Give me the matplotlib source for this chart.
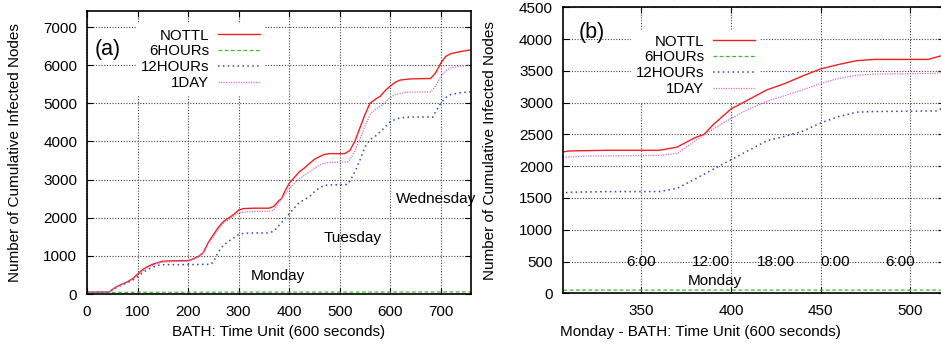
import matplotlib.pyplot as plt

plt.rcParams["font.family"] = ["Liberation Sans", "DejaVu Sans"]
plt.rcParams["font.size"] = 11

# time units (600 s) and cumulative infected nodes
nottl_t = [0, 45, 50, 60, 70, 80, 90, 100, 110, 120, 130, 140, 150, 170, 200,
           210, 220, 230, 240, 250, 260, 270, 280, 290, 300, 310, 330, 360,
           370, 380, 385, 390, 400, 410, 420, 430, 440, 450, 460, 470, 480,
           510, 520, 530, 540, 550, 560, 570, 580, 590, 600, 610, 620, 640,
           680, 690, 700, 710, 720, 740, 760]
nottl_n = [45, 55, 120, 200, 260, 320, 400, 520, 640, 720, 780, 820, 860, 870,
           875, 920, 980, 1080, 1350, 1550, 1750, 1900, 1990, 2080, 2200, 2240,
           2250, 2250, 2300, 2450, 2500, 2650, 2900, 3050, 3200, 3300, 3420,
           3530, 3600, 3660, 3680, 3680, 3760, 4000, 4350, 4700, 5000, 5100,
           5180, 5330, 5450, 5550, 5610, 5640, 5650, 5800, 6050, 6230, 6300,
           6360, 6400]

h6_t = [0, 100, 300, 500, 760]
h6_n = [40, 45, 50, 50, 55]

h12_t = [0, 45, 50, 60, 70, 80, 90, 100, 110, 120, 130, 140, 150, 200, 245,
         250, 260, 270, 280, 290, 300, 310, 330, 360, 370, 380, 390, 400, 410,
         420, 430, 440, 450, 460, 470, 480, 515, 520, 530, 540, 550, 560, 570,
         580, 590, 600, 610, 620, 640, 685, 690, 700, 710, 720, 740, 760]
h12_n = [45, 55, 110, 180, 240, 300, 360, 450, 560, 640, 700, 750, 770, 770,
         780, 840, 1100, 1280, 1380, 1470, 1560, 1590, 1600, 1600, 1650, 1800,
         1950, 2100, 2250, 2400, 2470, 2550, 2680, 2780, 2850, 2860, 2870,
         2950, 3200, 3500, 3850, 4050, 4130, 4250, 4380, 4510, 4580, 4620,
         4640, 4640, 4780, 5000, 5150, 5230, 5280, 5300]

d1_t = [0, 45, 50, 60, 70, 80, 90, 100, 110, 120, 130, 140, 150, 200, 210,
        220, 230, 240, 250, 260, 270, 280, 290, 300, 320, 360, 370, 380, 390,
        400, 410, 420, 430, 440, 450, 460, 470, 480, 515, 520, 530, 540, 550,
        560, 570, 580, 590, 600, 610, 630, 680, 690, 700, 710, 720, 740, 760]
d1_n = [45, 55, 120, 190, 250, 310, 380, 490, 600, 690, 750, 800, 840, 860,
        900, 970, 1060, 1320, 1500, 1700, 1850, 1950, 2030, 2130, 2160, 2170,
        2200, 2400, 2580, 2750, 2900, 3020, 3110, 3200, 3300, 3380, 3430,
        3450, 3460, 3520, 3750, 4050, 4400, 4700, 4830, 4920, 5020, 5150,
        5230, 5290, 5300, 5450, 5700, 5850, 5930, 5980, 6000]

series = [
    ("NOTTL", nottl_t, nottl_n, "#f02020", "-", 1.0),
    ("6HOURs", h6_t, h6_n, "#40b830", (0, (3, 2)), 0.9),
    ("12HOURs", h12_t, h12_n, "#3048b0", (0, (1, 2.2)), 1.1),
    ("1DAY", d1_t, d1_n, "#d070c8", (0, (1, 1)), 0.9),
]

a_days = [("Monday", 377, 480), ("Tuesday", 525, 1480), ("Wednesday", 690, 2480)]
b_hours = [("6:00", 350), ("12:00", 389), ("18:00", 425), ("0:00", 458), ("6:00", 494)]

W, H = 941, 347
fig = plt.figure(figsize=(W / 100, H / 100), dpi=100)
ax_a = fig.add_axes([87 / W, 1 - 294 / H, 384 / W, 283 / H])
ax_b = fig.add_axes([562.7 / W, 1 - 293.3 / H, 381 / W, 286 / H])


def style(ax):
    ax.grid(True, color="#444444", linestyle=(0, (1, 1.5)), linewidth=0.8)
    ax.set_axisbelow(True)
    ax.tick_params(direction="in", top=True, right=True, length=4, width=0.8)
    ax.tick_params(axis="x", pad=8)
    ax.tick_params(axis="y", pad=7)
    for s in ax.spines.values():
        s.set_linewidth(1.2)


def key(ax, right, top):
    leg = ax.legend(loc="upper right", bbox_to_anchor=(right, top),
                    markerfirst=False, handlelength=2.75, handletextpad=0.6,
                    labelspacing=0.13, borderpad=0.3, borderaxespad=0,
                    fancybox=False, framealpha=1, edgecolor="white",
                    fontsize=10.8)
    # white box hides the grid only, the curves stay on top
    leg.set_zorder(1.5)


for ax in (ax_a, ax_b):
    for name, t, n, c, ls, lw in series:
        ax.plot(t, n, color=c, linestyle=ls, linewidth=lw, label=name, zorder=2)
    style(ax)
    ax.set_ylabel("Number of Cumulative Infected Nodes")

ax_a.set_xlim(0, 760)
ax_a.set_ylim(0, 7420)
ax_a.set_xticks(range(0, 701, 100))
ax_a.set_yticks(range(0, 7001, 1000))
ax_a.set_xlabel("BATH: Time Unit (600 seconds)")
ax_a.xaxis.set_label_coords(0.5, -0.11)
ax_a.yaxis.set_label_coords(-0.17, 0.5)
ax_a.text(40, 6420, "(a)", fontsize=15.5, ha="center", va="center")
for label, x, y in a_days:
    ax_a.text(x, y, label, ha="center", va="center")
key(ax_a, (264 - 87) / 384, (294 - 24) / 283)

ax_b.set_xlim(306.2, 518.6)
ax_b.set_ylim(0, 4500)
ax_b.set_xticks(range(350, 501, 50))
ax_b.set_yticks(range(0, 4501, 500))
ax_b.set_xlabel("Monday - BATH: Time Unit (600 seconds)")
ax_b.xaxis.set_label_coords((700 - 562.7) / 381, -0.11)
ax_b.yaxis.set_label_coords(-0.172, 0.5)
ax_b.spines["right"].set_visible(False)
ax_b.text(322.5, 4110, "(b)", fontsize=15.5, ha="center", va="center")
for label, x in b_hours:
    ax_b.text(x, 500, label, ha="center", va="center")
ax_b.text(391, 195, "Monday", ha="center", va="center")
key(ax_b, (759 - 562.7) / 381, (293.3 - 30) / 286)

fig.savefig("out.png", dpi=100)
